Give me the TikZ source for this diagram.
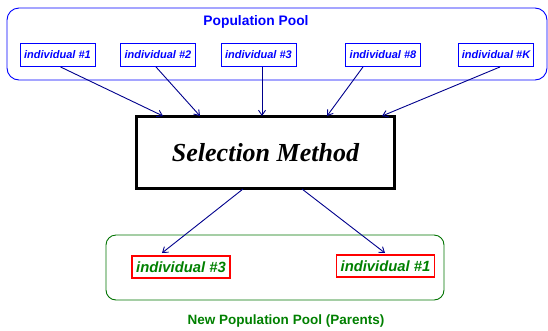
\documentclass[tikz,border=0pt]{standalone}
\usepackage{fontspec}
\setmainfont{Liberation Serif}
\setsansfont{Liberation Sans}
\usetikzlibrary{arrows.meta,calc}
\definecolor{pblue}{RGB}{0,0,255}
\definecolor{navy}{RGB}{0,0,140}
\definecolor{pgreen}{RGB}{0,128,0}
\definecolor{pred}{RGB}{255,0,0}
\tikzset{
  poolbox/.style={draw=pblue, line width=0.9pt, rounded corners=12pt},
  newpool/.style={draw=pgreen!90!black, line width=0.9pt, rounded corners=10pt},
  indbox/.style={draw=pblue, line width=0.9pt, text=pblue, font=\sffamily\bfseries\itshape\fontsize{11}{12}\selectfont, minimum width=75pt, minimum height=23pt, inner sep=0pt},
  parbox/.style={draw=pred, line width=1.6pt, text=pgreen, font=\sffamily\bfseries\itshape\fontsize{14.8}{16}\selectfont, minimum width=98pt, minimum height=22pt, inner sep=0pt},
  selbox/.style={draw=black, line width=2.4pt, font=\rmfamily\bfseries\itshape\fontsize{26}{30}\selectfont, minimum width=258pt, minimum height=72pt, inner sep=0pt},
  conn/.style={draw=navy, line width=0.9pt, -{Straight Barb[length=5pt,width=7pt]}},
}
\begin{document}
\begin{tikzpicture}[x=1pt,y=-1pt]
\useasboundingbox (0,0) rectangle (548,330);
% top pool
\draw[poolbox] (7,8) rectangle (547,80);
\node[text=pblue, font=\sffamily\bfseries\fontsize{13.8}{16}\selectfont] (title) at (256,22) {Population Pool};
\node[indbox] (i1) at (57.5,55) {individual \#1};
\node[indbox] (i2) at (158,55) {individual \#2};
\node[indbox] (i3) at (258.5,55) {individual \#3};
\node[indbox] (i8) at (383,55) {individual \#8};
\node[indbox] (iK) at (496,55) {individual \#K};
% selection
\node[selbox] (sel) at (265.5,152.5) {Selection Method};
\coordinate (e1) at (163,116);
\coordinate (e2) at (200,116);
\coordinate (e3) at (262,116);
\coordinate (e8) at (327,116);
\coordinate (eK) at (382,116);
\draw[conn] ($(i1.south)+(3,0)$) -- (e1);
\draw[conn] ($(i2.south)+(-2,0)$) -- (e2);
\draw[conn] ($(i3.south)+(3.5,0)$) -- (e3);
\draw[conn] ($(i8.south)+(-20,0)$) -- (e8);
\draw[conn] ($(iK.south)+(4,0)$) -- (eK);
% new pool
\draw[newpool] (106,235) rectangle (444,300);
\node[parbox] (p3) at (181,267) {individual \#3};
\node[parbox] (p1) at (385.5,266) {individual \#1};
\coordinate (s1) at (243,189);
\coordinate (s2) at (302,189);
\coordinate (t3) at (162,253);
\coordinate (t1) at (385,253);
\draw[conn] (s1) -- (t3);
\draw[conn] (s2) -- (t1);
\node[text=pgreen, font=\sffamily\bfseries\fontsize{13.5}{16}\selectfont] (cap) at (286,321) {New Population Pool (Parents)};
\end{tikzpicture}
\end{document}
